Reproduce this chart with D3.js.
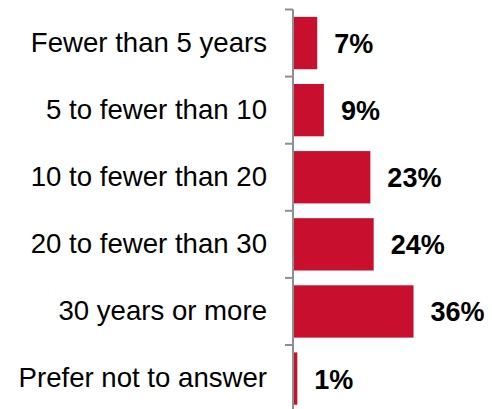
<!DOCTYPE html>
<html>
<head>
<meta charset="utf-8">
<script src="https://cdn.jsdelivr.net/npm/d3@7"></script>
<style>
html,body{margin:0;padding:0;background:#fff;}
svg{display:block;font-family:"Liberation Sans",Arial,sans-serif;}
</style>
</head>
<body>
<svg id="chart" width="492" height="409"></svg>
<script>
const categories = ["Fewer than 5 years","5 to fewer than 10","10 to fewer than 20","20 to fewer than 30","30 years or more","Prefer not to answer"];
const values = [7, 9, 23, 24, 36, 1];
const valueLabels = ["7%","9%","23%","24%","36%","1%"];

const svg = d3.select("#chart");
const axisX = 293;
const y = d3.scaleBand().domain(categories).range([9.5, 9.5 + 6*67.1]).paddingInner(0.22).paddingOuter(0.11);
const x = d3.scaleLinear().domain([0, 40]).range([axisX + 1, axisX + 1 + 40*3.32]);

const data = categories.map((c,i)=>({c, v:values[i], l:valueLabels[i]}));

svg.selectAll("rect.bar").data(data).join("rect")
  .attr("class","bar")
  .attr("x", x(0))
  .attr("y", d=>y(d.c))
  .attr("width", d=>x(d.v)-x(0))
  .attr("height", y.bandwidth())
  .attr("fill", "#C8102E");

// axis
const step = y.step();
const bounds = categories.map(c => y(c) - step*y.paddingInner()/2);
bounds.push(bounds[bounds.length-1] + step);
svg.append("line").attr("x1",axisX).attr("x2",axisX).attr("y1",bounds[0]).attr("y2",bounds[bounds.length-1])
  .attr("stroke","#8f8f8f").attr("stroke-width",2);
svg.selectAll("line.tick").data(bounds).join("line").attr("class","tick")
  .attr("x1",axisX-8).attr("x2",axisX).attr("y1",d=>d).attr("y2",d=>d)
  .attr("stroke","#8f8f8f").attr("stroke-width",2);

svg.selectAll("text.cat").data(data).join("text").attr("class","cat")
  .attr("x", 267)
  .attr("y", d=>y(d.c)+y.bandwidth()/2)
  .attr("dy","0.32em")
  .attr("text-anchor","end")
  .attr("font-size","27.6px")
  .attr("fill","#000")
  .text(d=>d.c);

svg.selectAll("text.val").data(data).join("text").attr("class","val")
  .attr("x", d=>x(d.v)+17)
  .attr("y", d=>y(d.c)+y.bandwidth()/2)
  .attr("dy","0.37em")
  .attr("font-size","27px")
  .attr("font-weight","bold")
  .attr("fill","#000")
  .text(d=>d.l);
</script>
</body>
</html>
